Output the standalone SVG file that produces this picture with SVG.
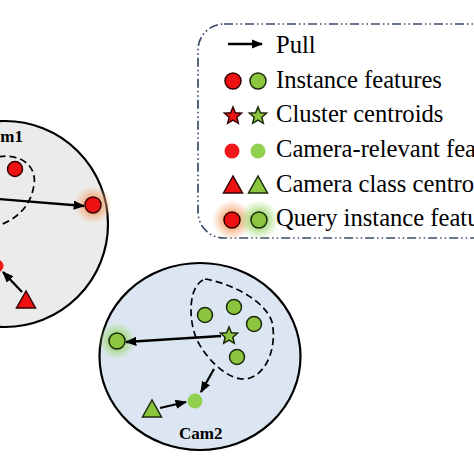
<svg xmlns="http://www.w3.org/2000/svg" width="474" height="474" viewBox="0 0 474 474">
<style>
.cam{stroke:#000;stroke-width:2.2}
.dash{fill:none;stroke:#000;stroke-width:1.7;stroke-dasharray:7 4}
.arr{stroke:#000;stroke-width:2.3;fill:none;marker-end:url(#ah)}
.red{fill:#ee1111;stroke:#300;stroke-width:1.5}
.grn{fill:#8cc63f;stroke:#1a2a0a;stroke-width:1.5}
.redc{fill:#f01818}
.grnc{fill:#92d050}
.lg{font-family:"Liberation Serif","Times New Roman",serif;font-size:24.6px;fill:#000}
.lbl{font-family:"Liberation Serif","Times New Roman",serif;font-size:17px;font-weight:bold;fill:#000}
</style>
<defs>
<marker id="ah" viewBox="0 0 10 8" refX="9" refY="4" markerWidth="5" markerHeight="4" orient="auto" markerUnits="strokeWidth">
<path d="M0,0 L10,4 L0,8 Z" fill="#000"/>
</marker>
<radialGradient id="gO">
<stop offset="0.3" stop-color="#f39a5e" stop-opacity="0.95"/>
<stop offset="1" stop-color="#f6b48a" stop-opacity="0"/>
</radialGradient>
<radialGradient id="gG">
<stop offset="0.3" stop-color="#8fd35a" stop-opacity="0.9"/>
<stop offset="1" stop-color="#a8dc80" stop-opacity="0"/>
</radialGradient>
<path id="star" d="M0,-9 L2.4,-3.3 L8.56,-2.78 L3.85,1.25 L5.29,7.28 L0,4.05 L-5.29,7.28 L-3.85,1.25 L-8.56,-2.78 L-2.4,-3.3 Z"/>
<path id="tri" d="M0,-9 L-9.5,8 L9.5,8 Z"/>
</defs>

<g id="cam1">
<circle class="cam" cx="5" cy="224" r="103" fill="#ebebeb"/>
<text class="lbl" x="23" y="142" text-anchor="end">Cam1</text>
<path class="dash" d="M-12,160 C10,150 38,160 34,185 C31,205 18,220 -6,227"/>
<circle class="red" cx="15" cy="169" r="7.5"/>
<circle cx="93" cy="205" r="19" fill="url(#gO)"/>
<circle class="red" cx="93" cy="205" r="8"/>
<circle class="redc" cx="-3" cy="266" r="6.5"/>
<use href="#tri" x="26" y="300" class="red"/>
</g>

<g id="cam2">
<ellipse class="cam" cx="200" cy="356.5" rx="100.5" ry="93.5" fill="#dce6f2"/>
<text class="lbl" x="179" y="439">Cam2</text>
<path class="dash" d="M205,279 C230,283 265,300 272,322 C277,345 268,372 250,378 C232,384 208,362 197,340 C188,320 188,285 205,279 Z"/>
<circle class="grn" cx="205" cy="315" r="7.5"/>
<circle class="grn" cx="234" cy="307" r="7.5"/>
<circle class="grn" cx="254" cy="324" r="7.5"/>
<circle class="grn" cx="237" cy="357" r="7.5"/>
<use href="#star" x="229" y="336" class="grn"/>
<circle cx="117" cy="341" r="19" fill="url(#gG)"/>
<circle class="grn" cx="117" cy="341" r="8"/>
<circle class="grnc" cx="195" cy="401" r="7.5"/>
<use href="#tri" x="152" y="409" class="grn"/>
</g>

<g id="connectors">
<line class="arr" x1="-2" y1="199" x2="84" y2="206"/>
<line class="arr" x1="22" y1="292" x2="3" y2="272"/>
<line class="arr" x1="221" y1="336" x2="126" y2="342"/>
<line class="arr" x1="214" y1="369" x2="201" y2="392"/>
<line class="arr" x1="160" y1="408" x2="186" y2="402"/>
</g>

<g id="legend">
<rect x="198" y="24" width="310" height="214" rx="26" fill="none" stroke="#3b4a6b" stroke-width="1.7" stroke-dasharray="9 3 1.5 3 1.5 3"/>
<line class="arr" x1="228" y1="44" x2="262" y2="44"/>
<text class="lg" x="276" y="53">Pull</text>
<circle class="red" cx="233" cy="81" r="8"/>
<circle class="grn" cx="258" cy="81" r="8"/>
<text class="lg" x="276" y="88">Instance features</text>
<use href="#star" x="233" y="116" class="red"/>
<use href="#star" x="258" y="116" class="grn"/>
<text class="lg" x="276" y="122">Cluster centroids</text>
<circle class="redc" cx="232" cy="151" r="7.5"/>
<circle class="grnc" cx="258" cy="151" r="7.5"/>
<text class="lg" x="276" y="157">Camera-relevant features</text>
<use href="#tri" x="233" y="185" class="red"/>
<use href="#tri" x="258" y="185" class="grn"/>
<text class="lg" x="276" y="192">Camera class centroids</text>
<circle cx="232" cy="220" r="20" fill="url(#gO)"/>
<circle cx="259" cy="220" r="20" fill="url(#gG)"/>
<circle class="red" cx="232" cy="220" r="8"/>
<circle class="grn" cx="259" cy="220" r="8"/>
<text class="lg" x="276" y="226">Query instance features</text>
</g>
</svg>
